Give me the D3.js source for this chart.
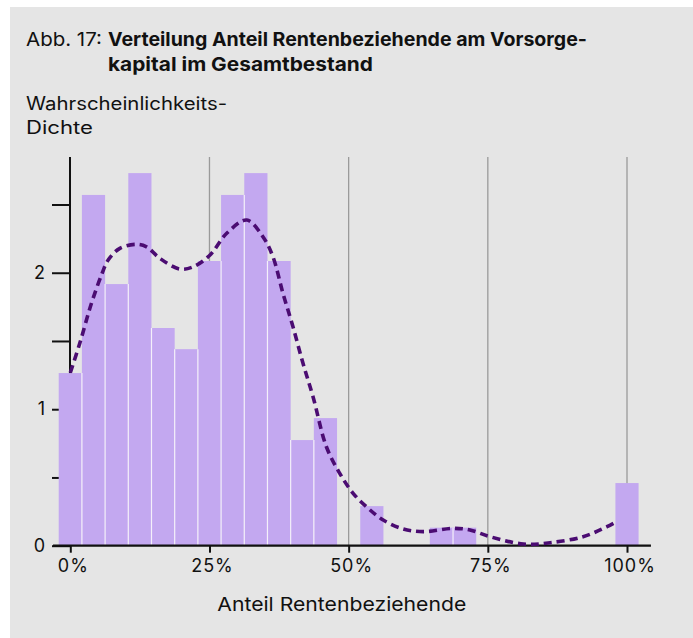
<!DOCTYPE html>
<html>
<head>
<meta charset="utf-8">
<script src="https://cdn.jsdelivr.net/npm/d3@7"></script>
<style>
  html, body { margin: 0; padding: 0; background: #ffffff; }
  svg { display: block; }
</style>
</head>
<body>
<script>
// ---- Data ----
const binCenters = [0, 1/24, 2/24, 3/24, 4/24, 5/24, 6/24, 7/24, 8/24, 9/24, 10/24, 11/24, 12/24,
  13/24, 14/24, 15/24, 16/24, 17/24, 18/24, 19/24, 20/24, 21/24, 22/24, 23/24, 1];
const binDensity = [1.265, 2.57, 1.917, 2.73, 1.595, 1.44, 2.086, 2.57, 2.73, 2.086, 0.774, 0.935, 0,
  0.29, 0, 0, 0.132, 0.132, 0, 0, 0, 0, 0, 0, 0.459];

const kdeX = [0, 0.017, 0.038, 0.056, 0.068, 0.089, 0.119, 0.137, 0.161, 0.197, 0.221, 0.251, 0.281,
  0.317, 0.346, 0.364, 0.382, 0.400, 0.418, 0.436, 0.460, 0.484, 0.508, 0.535, 0.562, 0.598, 0.634,
  0.688, 0.718, 0.754, 0.814, 0.862, 0.921, 0.964, 0.981];
const kdeY = [1.267, 1.483, 1.776, 1.983, 2.093, 2.179, 2.208, 2.190, 2.105, 2.027, 2.044, 2.130, 2.289,
  2.386, 2.264, 2.117, 1.849, 1.604, 1.336, 1.092, 0.725, 0.530, 0.384, 0.274, 0.188, 0.123, 0.103,
  0.127, 0.115, 0.066, 0.012, 0.022, 0.066, 0.139, 0.176];

const xTicks = [0, 0.25, 0.5, 0.75, 1];
const xTickLabels = ["0%", "25%", "50%", "75%", "100%"];
const yTicks = [0, 0.5, 1, 1.5, 2, 2.5];
const yTickLabels = ["0", "", "1", "", "2", ""];

const titlePrefix = "Abb. 17:";
const titleLines = ["Verteilung Anteil Rentenbeziehende am Vorsorge-", "kapital im Gesamtbestand"];
const yTitleLines = ["Wahrscheinlichkeits-", "Dichte"];
const xTitle = "Anteil Rentenbeziehende";

// ---- Layout ----
const W = 693, H = 638;
const svg = d3.select("body").append("svg").attr("width", W).attr("height", H);

svg.append("rect").attr("x", 10).attr("y", 7).attr("width", W - 10).attr("height", H - 7)
  .attr("fill", "#e5e5e5");

const x = d3.scaleLinear().domain([0, 1]).range([70.3, 627]);
const y = d3.scaleLinear().domain([0, 2.848]).range([545.7, 157]);
const xExt = [-0.031, 1.043];

const font = "Inter, 'Noto Sans', sans-serif";

function fitText(sel, w) {
  sel.attr("textLength", w).attr("lengthAdjust", "spacingAndGlyphs");
  return sel;
}

// Title
fitText(svg.append("text").attr("x", 26).attr("y", 46)
  .style("font-family", font).style("font-size", "19px").attr("fill", "#111")
  .text(titlePrefix), 76);
const titleW = [479, 265];
titleLines.forEach((t, i) => {
  fitText(svg.append("text").attr("x", 108).attr("y", 46 + i * 24.5)
    .style("font-family", font).style("font-size", "19px").style("font-weight", "700")
    .attr("fill", "#111").text(t), titleW[i]);
});

// Y title
const yTitleW = [201, 67];
yTitleLines.forEach((t, i) => {
  fitText(svg.append("text").attr("x", 26).attr("y", 110 + i * 24)
    .style("font-family", font).style("font-size", "18px").attr("fill", "#111").text(t), yTitleW[i]);
});

// Grid lines
svg.append("g").selectAll("line").data(xTicks.filter(d => d > 0)).join("line")
  .attr("x1", d => x(d)).attr("x2", d => x(d))
  .attr("y1", y.range()[1]).attr("y2", y(0))
  .attr("stroke", "#9a9a9a").attr("stroke-width", 1.3);

// Y axis
const yAxis = d3.axisLeft(y).tickValues(yTicks).tickSize(18).tickPadding(7)
  .tickFormat((d, i) => yTickLabels[i]);
const gy = svg.append("g").attr("transform", `translate(${70},0)`).call(yAxis);
gy.select(".domain").remove();
gy.selectAll(".tick line").attr("stroke", "#111").attr("stroke-width", 2);
gy.selectAll(".tick text").style("font-family", font).style("font-size", "18px").attr("fill", "#111");
gy.append("line").attr("x1", 0).attr("x2", 0).attr("y1", y.range()[1]).attr("y2", y(0))
  .attr("stroke", "#111").attr("stroke-width", 2);

// Bars
const bw = x(1 / 24) - x(0);
const bars = binCenters.map((c, i) => ({ c, v: binDensity[i] })).filter(d => d.v > 0);
svg.append("g").selectAll("rect").data(bars).join("rect")
  .attr("x", d => x(d.c) - bw / 2)
  .attr("width", bw)
  .attr("y", d => y(d.v))
  .attr("height", d => y(0) - y(d.v))
  .attr("fill", "#c3a8f0");
// white separators between adjacent bars
const seps = [];
for (let i = 0; i < binCenters.length - 1; i++) {
  if (binDensity[i] > 0 && binDensity[i + 1] > 0) {
    seps.push({ xb: (binCenters[i] + binCenters[i + 1]) / 2, v: Math.min(binDensity[i], binDensity[i + 1]) });
  }
}
svg.append("g").selectAll("line").data(seps).join("line")
  .attr("x1", d => x(d.xb)).attr("x2", d => x(d.xb))
  .attr("y1", d => y(d.v)).attr("y2", y(0))
  .attr("stroke", "#f4f0fa").attr("stroke-width", 1.2);

// X axis
const xAxis = d3.axisBottom(x).tickValues(xTicks).tickSize(7).tickPadding(7)
  .tickFormat((d, i) => xTickLabels[i]);
const gx = svg.append("g").attr("transform", `translate(0,${y(0)})`).call(xAxis);
gx.select(".domain").remove();
gx.append("line").attr("x1", x(xExt[0])).attr("x2", x(xExt[1])).attr("y1", 0).attr("y2", 0)
  .attr("stroke", "#111").attr("stroke-width", 2.2);
gx.selectAll(".tick line").attr("stroke", "#111").attr("stroke-width", 2);
gx.selectAll(".tick text").style("font-family", font).style("font-size", "18px")
  .style("letter-spacing", "1px").attr("dx", 2.5).attr("fill", "#111");

// X title
fitText(svg.append("text").attr("x", 217.3).attr("y", 610.7)
  .style("font-family", font).style("font-size", "19px").attr("fill", "#111").text(xTitle), 249);

// KDE line
const line = d3.line().x((d, i) => x(kdeX[i])).y((d, i) => y(kdeY[i])).curve(d3.curveCatmullRom);
svg.append("path").datum(kdeX).attr("d", line)
  .attr("fill", "none").attr("stroke", "#4b0c72").attr("stroke-width", 3.6)
  .attr("stroke-dasharray", "8,5");
</script>
</body>
</html>
